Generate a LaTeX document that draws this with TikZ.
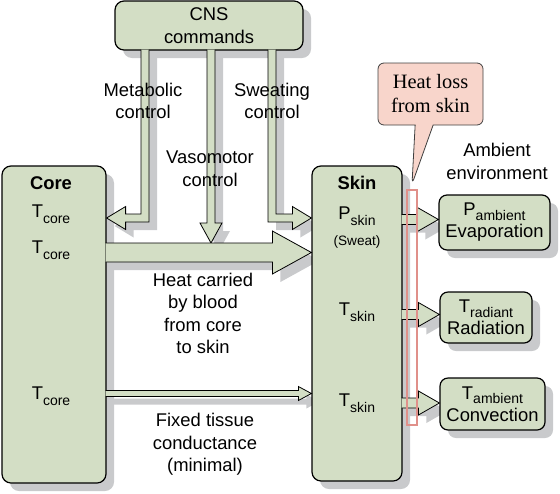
\documentclass[tikz,border=0pt]{standalone}
\usepackage{fontspec}
\setmainfont{Liberation Sans}
\newfontfamily\calloutfont{Liberation Serif}
\usetikzlibrary{calc,shadows,shapes.callouts}

\definecolor{boxgreen}{HTML}{D3DEC5}
\definecolor{shadowgray}{HTML}{C9CACC}
\definecolor{calloutpink}{HTML}{F8D5CB}
\definecolor{stripered}{HTML}{E0908A}

\pgfdeclarelayer{shadowlayer}
\pgfsetlayers{shadowlayer,main}

\newcommand\lowsub[2][-3pt]{\raisebox{#1}{\fontsize{7}{7}\selectfont #2}}
\newcommand\fatarrow[1]{%
  \begin{pgfonlayer}{shadowlayer}
    \fill[shadowgray, transform canvas={shift={(4pt,-4pt)}}] #1;
  \end{pgfonlayer}
  \filldraw[arrowbody] #1;}

\begin{document}
\fontsize{9.2}{11.3}\selectfont
\begin{tikzpicture}[x=0.5pt, y=-0.5pt, line width=0.6pt]
\tikzstyle{box}=[draw=black, fill=boxgreen, rounded corners=4.5pt, inner sep=0pt, align=center, drop shadow={shadow xshift=4pt, shadow yshift=-4pt, fill=shadowgray, opacity=1}]
\tikzstyle{arrowbody}=[draw=black, fill=boxgreen, line join=miter]
\tikzstyle{txt}=[align=center, inner sep=0pt]

\useasboundingbox (0,0) rectangle (560,493);

% CNS box
\node[box, minimum width=94pt, minimum height=24.5pt] (cns) at (209,25.5) {CNS\\commands};

% Core and skin
\node[box, minimum width=52pt, minimum height=158.5pt] (core) at (54,324.5) {};
\node[box, minimum width=45pt, minimum height=157.5pt] (skin) at (357,323.5) {};

% Ambient boxes
\node[box, rounded corners=4pt, minimum width=55.5pt, minimum height=27.5pt] (evap) at (494.5,222.5) {P\lowsub[-2.2pt]{ambient}\\[-0.3pt]Evaporation};
\node[box, rounded corners=4pt, minimum width=46pt, minimum height=25.5pt] (rad) at (486,317.5) {T\lowsub[-2.2pt]{radiant}\\[-0.3pt]Radiation};
\node[box, rounded corners=4pt, minimum width=52.5pt, minimum height=26pt] (conv) at (492.5,404) {T\lowsub[-2.2pt]{ambient}\\[-0.3pt]Convection};

% Arrow bends and tips
\coordinate (mbend) at (145,218);
\coordinate (sbend) at (272,218);
\coordinate (vtip) at (211,243);
\coordinate (heat) at (0,252.5);
\coordinate (cond) at (0,393.5);
\coordinate (evin) at ([yshift=1.5pt]evap.west);
\coordinate (radin) at ([yshift=1.5pt]rad.west);
\coordinate (convin) at ([yshift=0.5pt]conv.west);

% CNS commands
\fatarrow{($(cns.south -| mbend)+(-4,-1)$) -- ($(mbend)+(-4,-4)$) -- ($(core.east |- mbend)+(19,-4)$) -- ++(0,-7.5) -- (core.east |- mbend) -- ($(core.east |- mbend)+(19,11.5)$) -- ++(0,-7.5) -- ($(mbend)+(4,4)$) -- ($(cns.south -| mbend)+(4,-1)$)}
\fatarrow{($(cns.south -| sbend)+(-4,-1)$) -- ($(sbend)+(-4,4)$) -- ($(skin.west |- sbend)+(-19,4)$) -- ++(0,7.5) -- (skin.west |- sbend) -- ($(skin.west |- sbend)+(-19,-11.5)$) -- ++(0,7.5) -- ($(sbend)+(4,-4)$) -- ($(cns.south -| sbend)+(4,-1)$)}
\fatarrow{($(cns.south -| vtip)+(-4,-1)$) -- ($(vtip)+(-4,-20)$) -- ++(-7,0) -- (vtip) -- ($(vtip)+(11,-20)$) -- ++(-7,0) -- ($(cns.south -| vtip)+(4,-1)$)}

% Core to skin
\fatarrow{($(core.east |- heat)+(-1,-9.5)$) -- ($(skin.west |- heat)+(-39,-9.5)$) -- ++(0,-12) -- (skin.west |- heat) -- ($(skin.west |- heat)+(-39,21.5)$) -- ++(0,-12) -- ($(core.east |- heat)+(-1,9.5)$)}
\fatarrow{($(core.east |- cond)+(-1,-3)$) -- ($(skin.west |- cond)+(-13,-3)$) -- ++(0,-4) -- (skin.west |- cond) -- ($(skin.west |- cond)+(-13,7)$) -- ++(0,-4) -- ($(core.east |- cond)+(-1,3)$)}

% Skin to ambient
\fatarrow{($(skin.east |- evin)+(-1,-5)$) -- ($(evin)+(-21,-5)$) -- ++(0,-7) -- (evin) -- ($(evin)+(-21,12)$) -- ++(0,-7) -- ($(skin.east |- evin)+(-1,5)$)}
\fatarrow{($(skin.east |- radin)+(-1,-5)$) -- ($(radin)+(-21,-5)$) -- ++(0,-7) -- (radin) -- ($(radin)+(-21,12)$) -- ++(0,-7) -- ($(skin.east |- radin)+(-1,5)$)}
\fatarrow{($(skin.east |- convin)+(-1,-5)$) -- ($(convin)+(-21,-5)$) -- ++(0,-7) -- (convin) -- ($(convin)+(-21,12)$) -- ++(0,-7) -- ($(skin.east |- convin)+(-1,5)$)}

% Heat loss strip and callout
\node[draw=stripered, line width=0.8pt, minimum width=5pt, minimum height=117.5pt, inner sep=0pt] (strip) at (412,307.5) {};
\node[rectangle callout, draw=black!75, fill=calloutpink, rounded corners=3pt, minimum width=52.5pt, minimum height=31pt, inner sep=0pt, callout pointer width=9pt, callout absolute pointer={([yshift=2.5pt]strip.north)}, align=center, font=\calloutfont\fontsize{10.2}{12}\selectfont] (loss) at (430.5,94) {Heat loss\\from skin};

% Labels
\node[txt] (metab) at (143,101) {Metabolic\\control};
\node[txt] (sweating) at (272,101) {Sweating\\control};
\node[txt] (vaso) at (210,168.5) {Vasomotor\\control};
\node[txt] (corelbl) at (51,183) {\bfseries Core};
\node[txt] (tcore1) at (51,214) {T\lowsub{core}};
\node[txt] (tcore2) at (51,250) {T\lowsub{core}};
\node[txt] (tcore3) at (51,396) {T\lowsub{core}};
\node[txt] (skinlbl) at (357,183) {\bfseries Skin};
\node[txt] (pskin) at (357,216) {P\lowsub{skin}};
\node[txt] (sweatlbl) at (357,242) {\fontsize{6.8}{8}\selectfont (Sweat)};
\node[txt] (tskin1) at (357,312) {T\lowsub{skin}};
\node[txt] (tskin2) at (357,403) {T\lowsub{skin}};
\node[txt] (heattxt) at (203,313.5) {Heat carried\\by blood\\from core\\to skin};
\node[txt] (fixtxt) at (205,444.5) {Fixed tissue\\conductance\\(minimal)};
\node[txt] (ambient) at (497,161.5) {Ambient\\environment};
\end{tikzpicture}
\end{document}
